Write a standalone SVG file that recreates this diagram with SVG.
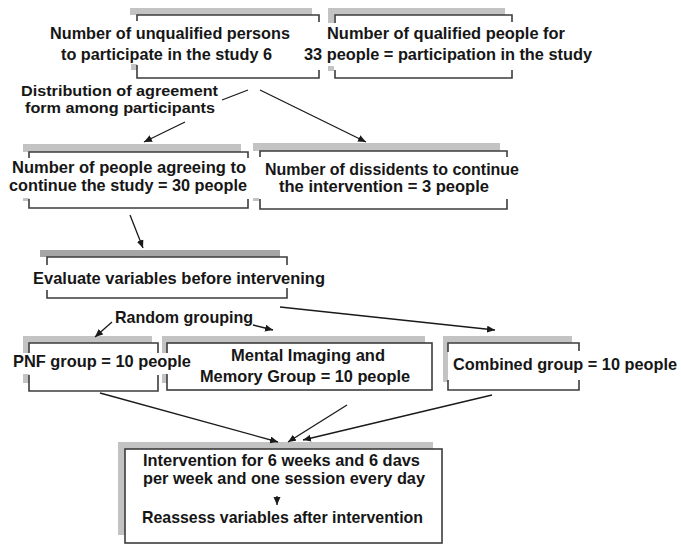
<svg xmlns="http://www.w3.org/2000/svg" width="681" height="544" viewBox="0 0 681 544">
<style>
  text { font-family: "Liberation Sans", Arial, sans-serif; font-weight: bold; font-size: 16.3px; fill: #161616; }
  .sm { font-size: 15.3px; }
  .sh { fill: #c3c3c3; }
  .shd { fill: #a6a6a6; }
  .br { fill: none; stroke: #3c3c3c; stroke-width: 1.6; }
  .bx { fill: #ffffff; stroke: #3c3c3c; stroke-width: 1.6; }
  .cn { fill: none; stroke: #1a1a1a; stroke-width: 1.3; }
</style>
<defs>
  <marker id="ah" markerUnits="userSpaceOnUse" markerWidth="9" markerHeight="8" refX="8" refY="3.5" orient="auto">
    <path d="M0,0 L8,3.5 L0,7 z" fill="#1a1a1a"/>
  </marker>
</defs>
<rect width="681" height="544" fill="#ffffff"/>

<g id="unqualified">
  <rect class="sh" x="130" y="8" width="182" height="7"/>
  <rect class="sh" x="131" y="64" width="6" height="6"/>
  <path class="br" d="M137,21 V15 H319 V22 M137,65 V78 H319 V70"/>
  <text x="50" y="39" textLength="240" lengthAdjust="spacingAndGlyphs">Number of unqualified persons</text>
  <text x="61" y="60" textLength="211" lengthAdjust="spacingAndGlyphs">to participate in the study 6</text>
</g>

<g id="qualified">
  <rect class="sh" x="328" y="8" width="177" height="7"/>
  <rect class="sh" x="328" y="15" width="6" height="8"/>
  <rect class="sh" x="328" y="66" width="6" height="5"/>
  <path class="br" d="M335,23 V15 H512 V22 M335,70 V78 H512 V70"/>
  <text x="327" y="39" textLength="238" lengthAdjust="spacingAndGlyphs">Number of qualified people for</text>
  <text x="304" y="60" textLength="288" lengthAdjust="spacingAndGlyphs">33 people = participation in the study</text>
</g>

<g id="distribution">
  <text class="sm" x="21" y="96" textLength="197" lengthAdjust="spacingAndGlyphs">Distribution of agreement</text>
  <text class="sm" x="25" y="113" textLength="190" lengthAdjust="spacingAndGlyphs">form among participants</text>
</g>

<g id="agreeing">
  <rect class="sh" x="23" y="144" width="218" height="8"/>
  <rect class="sh" x="23" y="198" width="6" height="3"/>
  <path class="br" d="M29,158 V152 H248 V158 M29,199 V208 H248 V199"/>
  <text x="12" y="173" textLength="234" lengthAdjust="spacingAndGlyphs">Number of people agreeing to</text>
  <text x="9" y="191" textLength="238" lengthAdjust="spacingAndGlyphs">continue the study = 30 people</text>
</g>

<g id="dissidents">
  <rect class="sh" x="253" y="143" width="247" height="8"/>
  <rect class="sh" x="253" y="198" width="6" height="3"/>
  <path class="br" d="M260,157 V151 H507 V157 M260,199 V209 H507 V199"/>
  <text x="265" y="175" textLength="254" lengthAdjust="spacingAndGlyphs">Number of dissidents to continue</text>
  <text x="279" y="192" textLength="210" lengthAdjust="spacingAndGlyphs">the intervention = 3 people</text>
</g>

<g id="evaluate">
  <rect class="shd" x="40" y="250" width="240" height="7"/>
  <path class="br" d="M47,265 V257 H287 V265 M47,290 V298 H287 V288"/>
  <text x="33" y="284" textLength="292" lengthAdjust="spacingAndGlyphs">Evaluate variables before intervening</text>
</g>

<g id="random-grouping">
  <text x="115" y="323" textLength="138" lengthAdjust="spacingAndGlyphs">Random grouping</text>
</g>

<g id="mental">
  <rect class="sh" x="162" y="336" width="263" height="7"/>
  <rect class="sh" x="162" y="336" width="5" height="47"/>
  <rect class="bx" x="167" y="343" width="265" height="47"/>
  <text x="231" y="361" textLength="154" lengthAdjust="spacingAndGlyphs">Mental Imaging and</text>
  <text x="200" y="382" textLength="210" lengthAdjust="spacingAndGlyphs">Memory Group = 10 people</text>
</g>

<g id="pnf">
  <rect class="sh" x="23" y="336" width="129" height="7"/>
  <rect class="sh" x="23" y="336" width="6" height="47"/>
  <path class="br" d="M29,353 V343 H158 V353 M29,375 V391 H158 V375"/>
  <rect x="12" y="353" width="180" height="21" fill="#ffffff"/>
  <text x="13" y="367" textLength="178" lengthAdjust="spacingAndGlyphs">PNF group = 10 people</text>
</g>

<g id="combined">
  <rect class="sh" x="443" y="336" width="129" height="7"/>
  <rect class="sh" x="443" y="336" width="5" height="46"/>
  <path class="br" d="M448,352 V343 H579 V351 M448,380 V390 H579 V380"/>
  <text x="453" y="370" textLength="224" lengthAdjust="spacingAndGlyphs">Combined group = 10 people</text>
</g>

<g id="intervention">
  <rect class="sh" x="118" y="442" width="315" height="7"/>
  <rect class="sh" x="118" y="442" width="7" height="93"/>
  <rect class="bx" x="125" y="449" width="317" height="94"/>
  <text x="143" y="466" textLength="277" lengthAdjust="spacingAndGlyphs">Intervention for 6 weeks and 6 davs</text>
  <text x="143" y="484" textLength="282" lengthAdjust="spacingAndGlyphs">per week and one session every day</text>
  <text x="142" y="523" textLength="281" lengthAdjust="spacingAndGlyphs">Reassess variables after intervention</text>
</g>

<g id="connectors">
  <line class="cn" x1="222" y1="100" x2="248" y2="90"/>
  <line class="cn" x1="260" y1="90" x2="366" y2="142" marker-end="url(#ah)"/>
  <line class="cn" x1="185" y1="122" x2="144" y2="142" marker-end="url(#ah)"/>
  <line class="cn" x1="130" y1="215" x2="143" y2="248" marker-end="url(#ah)"/>
  <line class="cn" x1="280" y1="307" x2="495" y2="330" marker-end="url(#ah)"/>
  <line class="cn" x1="112" y1="322" x2="95" y2="337" marker-end="url(#ah)"/>
  <line class="cn" x1="253" y1="325" x2="273" y2="330" marker-end="url(#ah)"/>
  <line class="cn" x1="100" y1="393" x2="278" y2="442" marker-end="url(#ah)"/>
  <line class="cn" x1="347" y1="405" x2="288" y2="442" marker-end="url(#ah)"/>
  <line class="cn" x1="492" y1="395" x2="303" y2="440" marker-end="url(#ah)"/>
  <line class="cn" x1="277" y1="496" x2="277" y2="505" marker-end="url(#ah)"/>
</g>
</svg>
